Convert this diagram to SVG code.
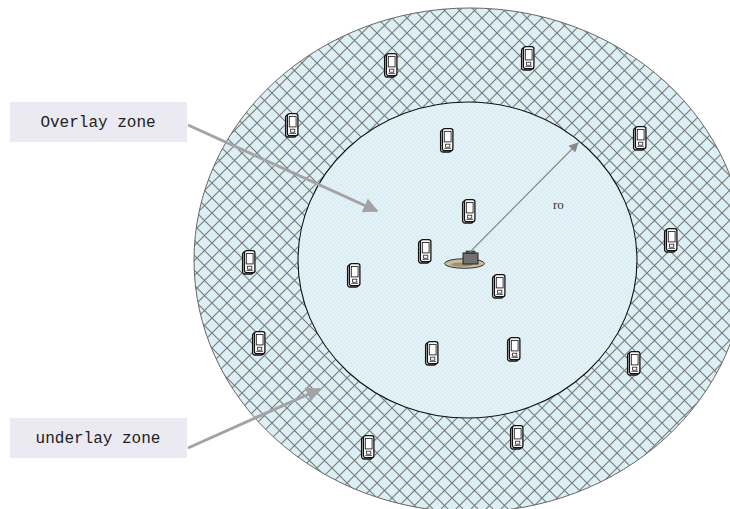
<svg xmlns="http://www.w3.org/2000/svg" width="730" height="509" viewBox="0 0 730 509">
  <style>
    .label-box { fill: #ebe9f1; }
    .label-text { font-family: "Liberation Mono", "DejaVu Sans Mono", monospace; font-size: 16px; fill: #222; text-anchor: middle; }
    .zone-arrow { stroke: #a3a3a3; stroke-width: 3; fill: none; }
    .radius { stroke: #8a8a8a; stroke-width: 1.2; fill: none; }
    .ro { font-family: "Liberation Serif", "DejaVu Serif", serif; font-size: 13px; fill: #333; }
  </style>
  <defs>
    <!-- diagonal lattice used for the outer ring -->
    <pattern id="lattice" patternUnits="userSpaceOnUse" width="15" height="15" x="2" y="3">
      <rect width="15" height="15" fill="#dceff5"/>
      <path d="M0,0 L15,15 M15,0 L0,15" stroke="#7b7b7b" stroke-width="1.15"/>
    </pattern>
    <!-- faint dotted texture for the inner zone -->
    <pattern id="dots" patternUnits="userSpaceOnUse" width="4" height="4">
      <rect width="4" height="4" fill="#e2f2f7"/>
      <circle cx="1" cy="1" r="0.7" fill="#d3e9f0"/>
      <circle cx="3" cy="3" r="0.7" fill="#d3e9f0"/>
    </pattern>
    <marker id="zoneHead" viewBox="0 0 10 10" refX="9" refY="5" markerWidth="5" markerHeight="5" orient="auto" markerUnits="strokeWidth">
      <path d="M0,0 L10,5 L0,10 Z" fill="#a3a3a3"/>
    </marker>
    <marker id="radiusHead" viewBox="0 0 10 10" refX="9" refY="5" markerWidth="9" markerHeight="8" orient="auto" markerUnits="strokeWidth">
      <path d="M0,0 L10,5 L0,10 Z" fill="#8a8a8a"/>
    </marker>
    <!-- handheld terminal icon -->
    <symbol id="phone" viewBox="0 0 14 25" width="14" height="25" overflow="visible">
      <rect x="0.6" y="2" width="10.5" height="22" rx="2.2" fill="#f4f4f4" stroke="#111" stroke-width="1.3"/>
      <rect x="2.4" y="0.6" width="10.5" height="22" rx="2.2" fill="#fff" stroke="#111" stroke-width="1.3"/>
      <rect x="4.3" y="3.4" width="6.8" height="10.5" fill="#fff" stroke="#222" stroke-width="0.9"/>
      <rect x="5.6" y="16.2" width="4.2" height="3" fill="none" stroke="#222" stroke-width="0.8"/>
      <line x1="4.3" y1="20.5" x2="11" y2="20.5" stroke="#222" stroke-width="0.7"/>
    </symbol>
  </defs>

  <rect width="730" height="509" fill="#ffffff"/>

  <!-- coverage zones -->
  <g id="underlay-ring">
    <ellipse cx="470" cy="260" rx="276" ry="252" fill="url(#lattice)" stroke="#666" stroke-width="1"/>
  </g>
  <g id="overlay-area">
    <ellipse cx="467.5" cy="260" rx="169.5" ry="158" fill="url(#dots)" stroke="#111" stroke-width="1.1"/>
  </g>

  <!-- terminals -->
  <g id="terminals">
    <use href="#phone" x="384" y="53"/>
    <use href="#phone" x="521" y="46"/>
    <use href="#phone" x="285" y="113"/>
    <use href="#phone" x="440" y="128"/>
    <use href="#phone" x="633" y="126"/>
    <use href="#phone" x="462" y="199"/>
    <use href="#phone" x="418" y="239"/>
    <use href="#phone" x="664" y="228"/>
    <use href="#phone" x="242" y="250"/>
    <use href="#phone" x="347" y="263"/>
    <use href="#phone" x="492" y="274"/>
    <use href="#phone" x="252" y="331"/>
    <use href="#phone" x="425" y="341"/>
    <use href="#phone" x="507" y="337"/>
    <use href="#phone" x="627" y="351"/>
    <use href="#phone" x="361" y="435"/>
    <use href="#phone" x="510" y="425"/>
  </g>

  <!-- base station -->
  <g id="base-station">
    <ellipse cx="464.5" cy="263.5" rx="20" ry="4.8" fill="#c9bc9c" stroke="#333" stroke-width="1"/>
    <ellipse cx="462" cy="264.5" rx="11" ry="2" fill="#9c8f72" stroke="none"/>
    <rect x="463" y="253" width="15" height="11" fill="#707070" stroke="#222" stroke-width="1"/>
    <rect x="466" y="251" width="9" height="2.5" fill="#555" stroke="#222" stroke-width="0.6"/>
  </g>

  <!-- labels -->
  <g id="overlay-label">
    <rect class="label-box" x="10" y="102" width="177" height="40"/>
    <text class="label-text" x="98" y="127">Overlay zone</text>
  </g>
  <g id="underlay-label">
    <rect class="label-box" x="10" y="418" width="177" height="40"/>
    <text class="label-text" x="98" y="443">underlay zone</text>
  </g>
  <g id="radius-label">
    <text class="ro" x="553" y="209">ro</text>
  </g>

  <!-- connectors -->
  <g id="connectors">
    <line class="zone-arrow" x1="188" y1="125" x2="377" y2="211" marker-end="url(#zoneHead)"/>
    <line class="zone-arrow" x1="188" y1="448" x2="320" y2="389" marker-end="url(#zoneHead)"/>
    <line class="radius" x1="470" y1="252" x2="578" y2="143" marker-end="url(#radiusHead)"/>
  </g>
</svg>
